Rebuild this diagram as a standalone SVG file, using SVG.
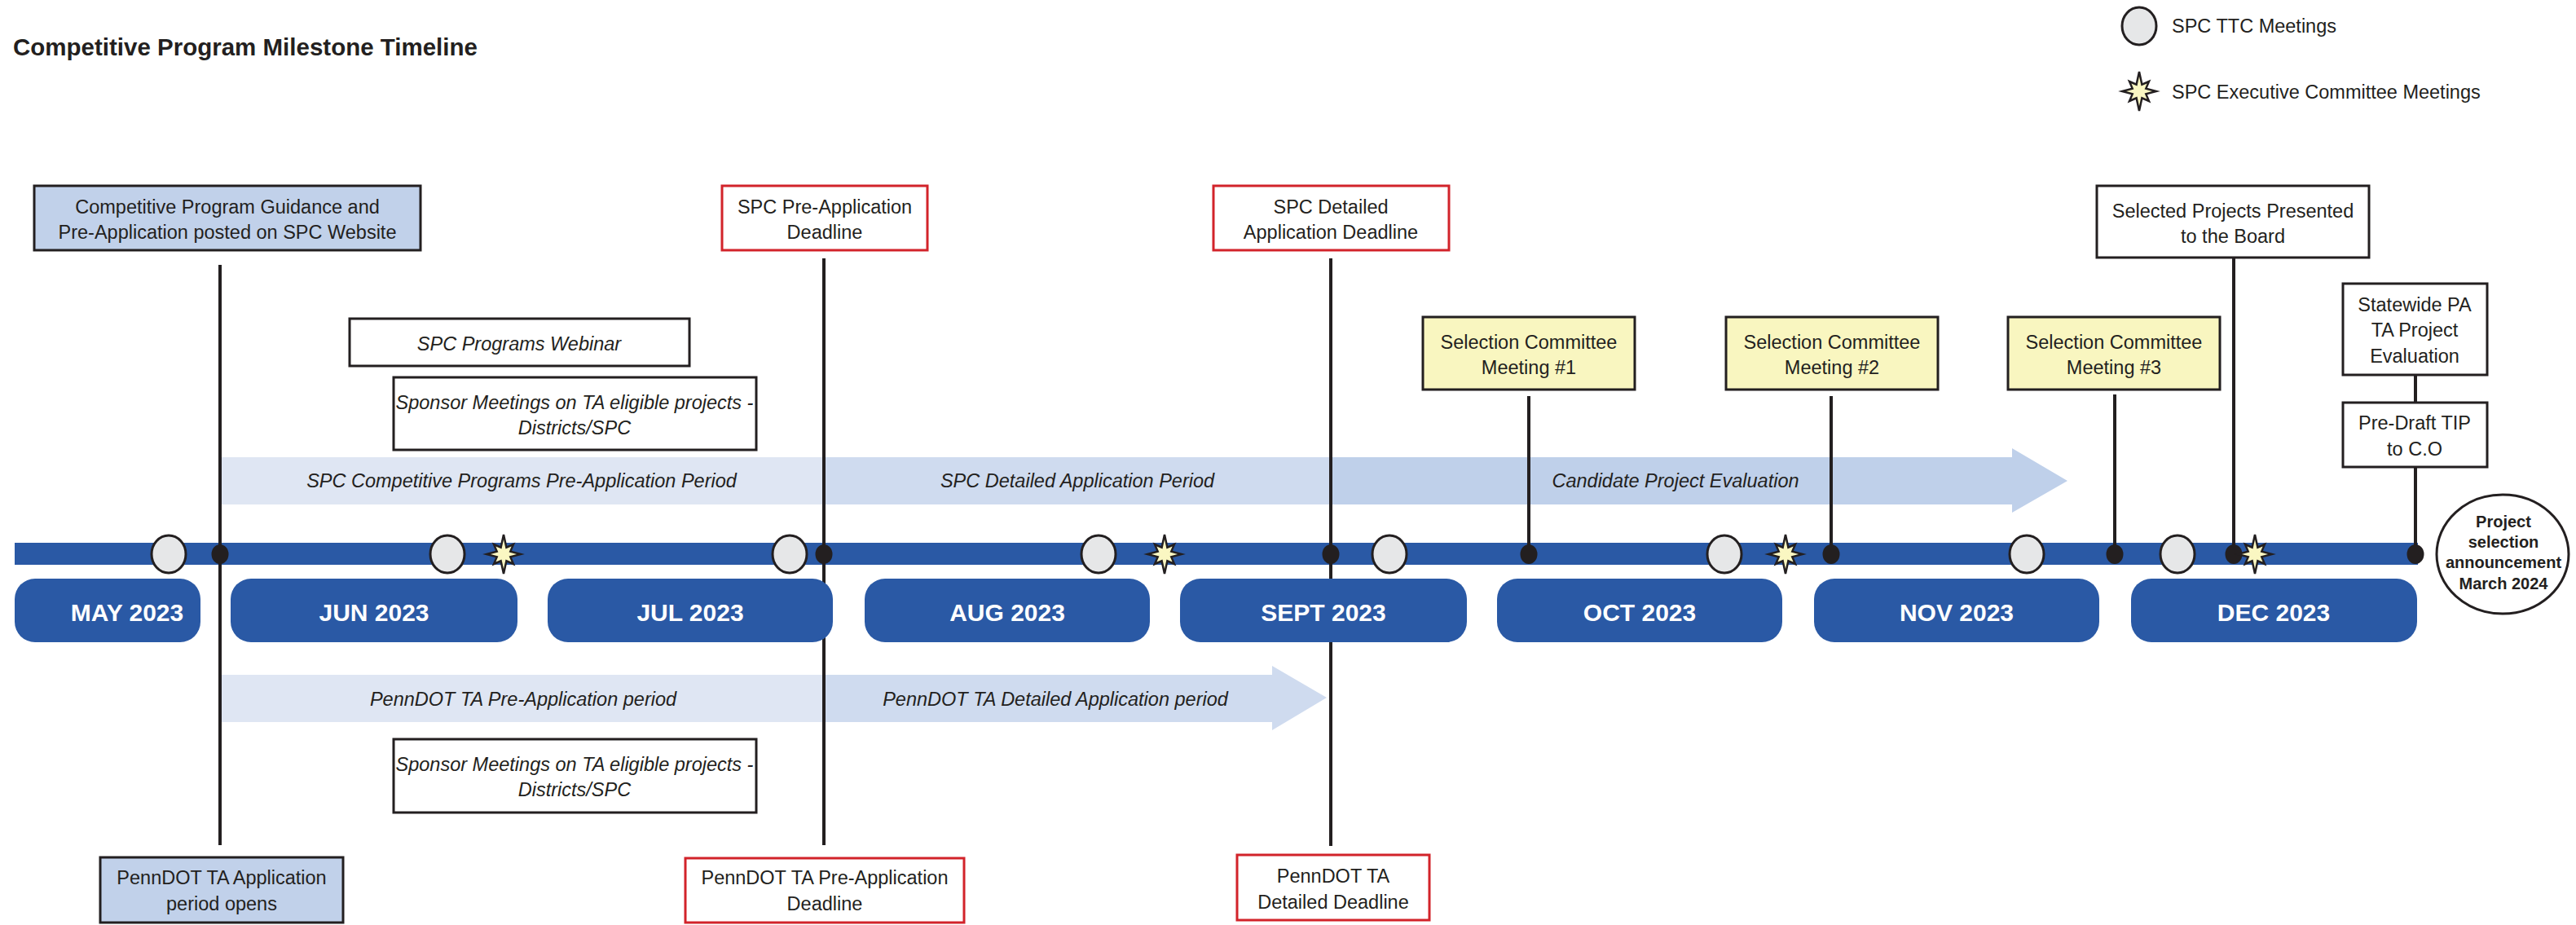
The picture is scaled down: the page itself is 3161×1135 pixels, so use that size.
<svg xmlns="http://www.w3.org/2000/svg" xmlns:xlink="http://www.w3.org/1999/xlink" width="3161" height="1135" viewBox="0 0 3161 1135">
<style>
.t{font-family:"Liberation Sans",Arial,sans-serif;font-size:23.5px;fill:#231f20;text-anchor:middle}
.i{font-style:italic}
.box{stroke:#231f20;stroke-width:3}
.white{fill:#ffffff}
.blue{fill:#c1d1ea}
.yellow{fill:#f9f6c0}
.red{fill:#ffffff;stroke:#d2232a;stroke-width:3}
.month{fill:#2a59a5}
.mt{font-family:"Liberation Sans",Arial,sans-serif;font-weight:bold;font-size:30px;fill:#ffffff;text-anchor:middle}
.vl{stroke:#231f20;stroke-width:4;fill:none}
.ttc{fill:#e6e7e8;stroke:#231f20;stroke-width:3}
.dot{fill:#231f20}
.star{fill:#faf7c2;stroke:#231f20;stroke-width:2.5;stroke-linejoin:miter}
.b1{fill:#dfe6f3}.b2{fill:#cfdbef}.b3{fill:#bfd0ea}
</style>
<defs>
<path id="star" d="M0,-24 L3.4,-8.3 L12,-12 L8.3,-3.4 L21,0 L8.3,3.4 L12,12 L3.4,8.3 L0,24 L-3.4,8.3 L-12,12 L-8.3,3.4 L-21,0 L-8.3,-3.4 L-12,-12 L-3.4,-8.3 Z"/>
</defs>
<rect width="3161" height="1135" fill="#ffffff"/>

<text x="16" y="68" font-family="Liberation Sans, Arial, sans-serif" font-weight="bold" font-size="29.5" fill="#231f20">Competitive Program Milestone Timeline</text>

<g id="legend">
  <ellipse class="ttc" cx="2625" cy="32" rx="21" ry="23"/>
  <text class="t" x="2665" y="40" style="text-anchor:start">SPC TTC Meetings</text>
  <use xlink:href="#star" class="star" x="2625" y="112"/>
  <text class="t" x="2665" y="121" style="text-anchor:start">SPC Executive Committee Meetings</text>
</g>

<g id="timeline-bar">
  <rect x="18" y="666" width="2949" height="27" fill="#2a59a5"/>
</g>

<g id="periods">
  <rect class="b1" x="270" y="561" width="741" height="58"/>
  <rect class="b2" x="1011" y="561" width="622" height="58"/>
  <path class="b3" d="M1633,561 H2469 V550 L2537,590 L2469,629 V619 H1633 Z"/>
  <text class="t i" x="640" y="598">SPC Competitive Programs Pre-Application Period</text>
  <text class="t i" x="1322" y="598">SPC Detailed Application Period</text>
  <text class="t i" x="2056" y="598">Candidate Project Evaluation</text>
  <rect class="b1" x="270" y="828" width="741" height="58"/>
  <path class="b2" d="M1011,828 H1561 V817 L1628,856 L1561,896 V886 H1011 Z"/>
  <text class="t i" x="642" y="866">PennDOT TA Pre-Application period</text>
  <text class="t i" x="1295" y="866">PennDOT TA Detailed Application period</text>
</g>

<g id="connectors">
  <line class="vl" x1="270" y1="325" x2="270" y2="1037"/>
  <line class="vl" x1="1011" y1="317" x2="1011" y2="1037"/>
  <line class="vl" x1="1633" y1="317" x2="1633" y2="1038"/>
  <line class="vl" x1="1876" y1="486" x2="1876" y2="680"/>
  <line class="vl" x1="2247" y1="486" x2="2247" y2="680"/>
  <line class="vl" x1="2595" y1="484" x2="2595" y2="680"/>
  <line class="vl" x1="2741" y1="317" x2="2741" y2="680"/>
  <line class="vl" x1="2964" y1="460" x2="2964" y2="494"/>
  <line class="vl" x1="2964" y1="573" x2="2964" y2="680"/>
</g>

<g id="months">
  <g id="m-may"><rect class="month" x="18" y="710" width="228" height="78" rx="25"/><text class="mt" x="156" y="762">MAY 2023</text></g>
  <g id="m-jun"><rect class="month" x="283" y="710" width="352" height="78" rx="25"/><text class="mt" x="459" y="762">JUN 2023</text></g>
  <g id="m-jul"><rect class="month" x="672" y="710" width="350" height="78" rx="25"/><text class="mt" x="847" y="762">JUL 2023</text></g>
  <g id="m-aug"><rect class="month" x="1061" y="710" width="350" height="78" rx="25"/><text class="mt" x="1236" y="762">AUG 2023</text></g>
  <g id="m-sep"><rect class="month" x="1448" y="710" width="352" height="78" rx="25"/><text class="mt" x="1624" y="762">SEPT 2023</text></g>
  <g id="m-oct"><rect class="month" x="1837" y="710" width="350" height="78" rx="25"/><text class="mt" x="2012" y="762">OCT 2023</text></g>
  <g id="m-nov"><rect class="month" x="2226" y="710" width="350" height="78" rx="25"/><text class="mt" x="2401" y="762">NOV 2023</text></g>
  <g id="m-dec"><rect class="month" x="2615" y="710" width="351" height="78" rx="25"/><text class="mt" x="2790" y="762">DEC 2023</text></g>
</g>

<g id="markers">
  <ellipse class="ttc" cx="207" cy="680" rx="21" ry="23"/>
  <ellipse class="ttc" cx="549" cy="680" rx="21" ry="23"/>
  <ellipse class="ttc" cx="969" cy="680" rx="21" ry="23"/>
  <ellipse class="ttc" cx="1348" cy="680" rx="21" ry="23"/>
  <ellipse class="ttc" cx="1705" cy="680" rx="21" ry="23"/>
  <ellipse class="ttc" cx="2116" cy="680" rx="21" ry="23"/>
  <ellipse class="ttc" cx="2487" cy="680" rx="21" ry="23"/>
  <ellipse class="ttc" cx="2672" cy="680" rx="21" ry="23"/>
  <ellipse class="dot" cx="270" cy="680" rx="10.5" ry="12"/>
  <ellipse class="dot" cx="1011" cy="680" rx="10.5" ry="12"/>
  <ellipse class="dot" cx="1633" cy="680" rx="10.5" ry="12"/>
  <ellipse class="dot" cx="1876" cy="680" rx="10.5" ry="12"/>
  <ellipse class="dot" cx="2247" cy="680" rx="10.5" ry="12"/>
  <ellipse class="dot" cx="2595" cy="680" rx="10.5" ry="12"/>
  <ellipse class="dot" cx="2741" cy="680" rx="10.5" ry="12"/>
  <ellipse class="dot" cx="2964" cy="680" rx="10.5" ry="12"/>
  <use xlink:href="#star" class="star" x="618" y="680"/>
  <use xlink:href="#star" class="star" x="1429" y="680"/>
  <use xlink:href="#star" class="star" x="2191" y="680"/>
  <use xlink:href="#star" class="star" x="2767" y="680"/>
</g>

<g id="n-guidance"><rect class="box blue" x="42" y="228" width="474" height="79"/>
  <text class="t" x="279" y="262">Competitive Program Guidance and</text>
  <text class="t" x="279" y="293">Pre-Application posted on SPC Website</text></g>
<g id="n-spc-preapp"><rect class="red" x="886" y="228" width="252" height="79"/>
  <text class="t" x="1012" y="262">SPC Pre-Application</text>
  <text class="t" x="1012" y="293">Deadline</text></g>
<g id="n-spc-detailed"><rect class="red" x="1489" y="228" width="289" height="79"/>
  <text class="t" x="1633" y="262">SPC Detailed</text>
  <text class="t" x="1633" y="293">Application Deadline</text></g>
<g id="n-webinar"><rect class="box white" x="429" y="391" width="417" height="58"/>
  <text class="t i" x="637" y="430">SPC Programs Webinar</text></g>
<g id="n-sponsor-top"><rect class="box white" x="483" y="463" width="445" height="89"/>
  <text class="t i" x="705" y="502">Sponsor Meetings on TA eligible projects -</text>
  <text class="t i" x="705" y="533">Districts/SPC</text></g>
<g id="n-sc1"><rect class="box yellow" x="1746" y="389" width="260" height="89"/>
  <text class="t" x="1876" y="428">Selection Committee</text>
  <text class="t" x="1876" y="459">Meeting #1</text></g>
<g id="n-sc2"><rect class="box yellow" x="2118" y="389" width="260" height="89"/>
  <text class="t" x="2248" y="428">Selection Committee</text>
  <text class="t" x="2248" y="459">Meeting #2</text></g>
<g id="n-sc3"><rect class="box yellow" x="2464" y="389" width="260" height="89"/>
  <text class="t" x="2594" y="428">Selection Committee</text>
  <text class="t" x="2594" y="459">Meeting #3</text></g>
<g id="n-board"><rect class="box white" x="2573" y="228" width="334" height="88"/>
  <text class="t" x="2740" y="267">Selected Projects Presented</text>
  <text class="t" x="2740" y="298">to the Board</text></g>
<g id="n-statewide"><rect class="box white" x="2875" y="348" width="177" height="112"/>
  <text class="t" x="2963" y="382">Statewide PA</text>
  <text class="t" x="2963" y="413">TA Project</text>
  <text class="t" x="2963" y="445">Evaluation</text></g>
<g id="n-predraft"><rect class="box white" x="2875" y="494" width="177" height="79"/>
  <text class="t" x="2963" y="527">Pre-Draft TIP</text>
  <text class="t" x="2963" y="559">to C.O</text></g>
<g id="n-announce"><ellipse cx="3071" cy="680" rx="81" ry="73" fill="#ffffff" stroke="#231f20" stroke-width="3"/>
  <text x="3072" y="647" font-family="Liberation Sans, Arial, sans-serif" font-weight="bold" font-size="20" fill="#231f20" text-anchor="middle">Project</text>
  <text x="3072" y="672" font-family="Liberation Sans, Arial, sans-serif" font-weight="bold" font-size="20" fill="#231f20" text-anchor="middle">selection</text>
  <text x="3072" y="697" font-family="Liberation Sans, Arial, sans-serif" font-weight="bold" font-size="20" fill="#231f20" text-anchor="middle">announcement</text>
  <text x="3072" y="723" font-family="Liberation Sans, Arial, sans-serif" font-weight="bold" font-size="20" fill="#231f20" text-anchor="middle">March 2024</text></g>
<g id="n-sponsor-bottom"><rect class="box white" x="483" y="907" width="445" height="90"/>
  <text class="t i" x="705" y="946">Sponsor Meetings on TA eligible projects -</text>
  <text class="t i" x="705" y="977">Districts/SPC</text></g>
<g id="n-penndot-open"><rect class="box blue" x="123" y="1052" width="298" height="80"/>
  <text class="t" x="272" y="1085">PennDOT TA Application</text>
  <text class="t" x="272" y="1117">period opens</text></g>
<g id="n-penndot-preapp"><rect class="red" x="841" y="1053" width="342" height="79"/>
  <text class="t" x="1012" y="1085">PennDOT TA Pre-Application</text>
  <text class="t" x="1012" y="1117">Deadline</text></g>
<g id="n-penndot-detailed"><rect class="red" x="1518" y="1049" width="236" height="80"/>
  <text class="t" x="1636" y="1083">PennDOT TA</text>
  <text class="t" x="1636" y="1115">Detailed Deadline</text></g>
</svg>
